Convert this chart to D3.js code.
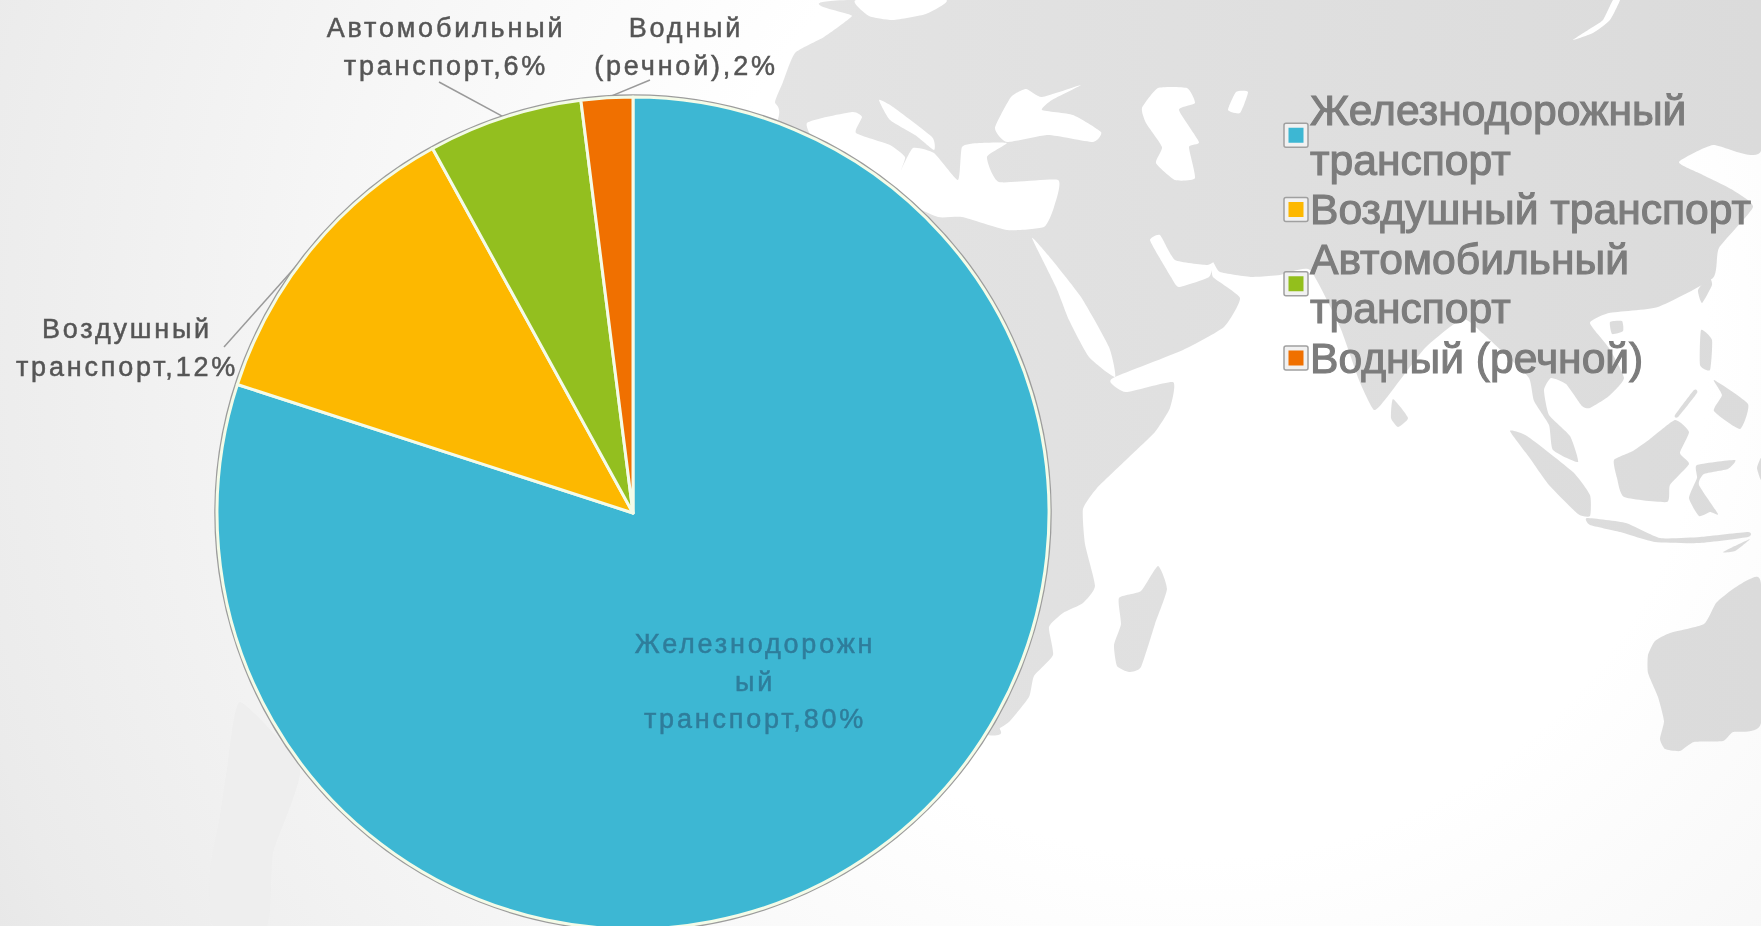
<meta charset="utf-8">
<html>
  <head>
    <style>
      html, body { margin: 0; padding: 0; background: #fff; overflow: hidden; }
      text { font-family: "Liberation Sans", Arial, sans-serif; }
    </style>
  </head>

<script src="https://d3js.org/d3.v7.min.js"></script>

<div id="my_dataviz"></div>

<script>

    // chart data
    var categories = ["Железнодорожный транспорт", "Воздушный транспорт", "Автомобильный транспорт", "Водный (речной)"]
    var values = [80, 12, 6, 2]
    var colors = ["#3db7d3", "#fdb800", "#93bf1f", "#f07000"]

    var labelLines = [
      ["Железнодорожн", "ый", "транспорт,80%"],
      ["Воздушный", "транспорт,12%"],
      ["Автомобильный", "транспорт,6%"],
      ["Водный", "(речной),2%"]
    ]
    var legendLines = [
      ["Железнодорожный", "транспорт"],
      ["Воздушный транспорт"],
      ["Автомобильный", "транспорт"],
      ["Водный (речной)"]
    ]

    // background map, rough outlines of the land and seas in page pixels
    var land = [
      [[852,0],[1761,0],[1761,151],[1713,145],[1679,162],[1701,174],[1731,189],[1753,207],[1719,248],[1713,278],[1658,307],[1609,313],[1590,323],[1609,348],[1624,378],[1609,396],[1590,408],[1582,406],[1566,384],[1551,378],[1544,390],[1549,415],[1570,436],[1578,462],[1553,450],[1549,425],[1534,401],[1529,378],[1505,354],[1480,331],[1462,319],[1425,348],[1388,396],[1374,410],[1359,380],[1340,327],[1310,270],[1280,275],[1252,277],[1220,272],[1213,262],[1213,277],[1240,298],[1224,327],[1183,350],[1115,377],[1111,383],[1126,392],[1173,382],[1170,408],[1155,432],[1126,460],[1097,488],[1083,509],[1085,544],[1095,586],[1083,603],[1063,613],[1049,627],[1053,655],[1034,676],[1029,697],[1010,721],[1000,728],[985,735],[700,700],[700,300],[777,122],[775,102],[783,82],[795,53],[824,37],[852,16]],
      [[1393,399],[1408,418],[1398,427],[1391,418]],
      [[1158,566],[1167,589],[1155,624],[1141,667],[1129,672],[1117,666],[1114,645],[1121,624],[1119,598],[1141,591]],
      [[1510,431],[1527,436],[1573,472],[1590,495],[1590,516],[1578,514],[1549,485],[1529,457]],
      [[1587,518],[1626,523],[1660,538],[1700,537],[1748,532],[1748,537],[1700,543],[1655,542],[1620,532],[1590,525]],
      [[1723,552],[1750,539],[1735,551]],
      [[1614,460],[1633,451],[1650,439],[1675,420],[1689,432],[1680,453],[1689,464],[1670,485],[1667,502],[1624,497],[1617,478]],
      [[1697,465],[1735,460],[1728,469],[1704,474],[1699,485],[1718,514],[1710,512],[1699,516],[1689,498],[1697,478]],
      [[1714,380],[1748,404],[1740,429],[1714,411],[1722,395]],
      [[1701,330],[1712,340],[1710,370],[1700,365]],
      [[1694,390],[1675,415],[1678,417],[1697,393]],
      [[1709,277],[1712,285],[1702,303],[1698,290]],
      [[1610,322],[1622,321],[1623,331],[1612,334]],
      [[1750,579],[1761,584],[1761,723],[1733,732],[1723,741],[1694,742],[1680,751],[1665,749],[1660,739],[1664,721],[1658,697],[1648,673],[1648,655],[1655,641],[1670,633],[1704,624],[1716,603],[1733,589]],
      [[1761,458],[1757,468],[1761,480]]
    ]
    var seas = [
      [[807,123],[852,112],[862,117],[856,133],[890,145],[905,157],[901,170],[913,148],[934,153],[958,180],[962,147],[979,143],[1007,143],[987,157],[999,182],[1058,180],[1054,207],[1044,227],[1007,230],[962,217],[938,217],[900,200],[860,180],[820,150]],
      [[879,100],[893,107],[932,137],[934,150],[915,135],[890,120]],
      [[995,128],[1011,97],[1026,89],[1042,97],[1081,85],[1052,100],[1042,110],[1073,115],[1101,132],[1093,142],[1048,135],[1007,142]],
      [[1142,108],[1158,88],[1187,88],[1195,103],[1179,110],[1199,142],[1189,147],[1195,178],[1175,180],[1156,163],[1162,147],[1146,123]],
      [[1228,110],[1236,92],[1248,92],[1240,113]],
      [[1032,238],[1048,255],[1081,297],[1109,347],[1115,377],[1089,357],[1069,320],[1056,287]],
      [[1150,240],[1160,235],[1175,260],[1207,265],[1213,263],[1209,277],[1179,287],[1171,277],[1162,262]],
      [[856,0],[869,16],[893,20],[926,14],[946,0]],
      [[1573,40],[1593,33],[1610,20],[1620,0],[1613,0],[1603,20],[1588,30]]
    ]
    var paleLand = [[[240,702],[227,769],[220,816],[210,870],[213,926],[267,926],[273,853],[300,769]]]

    // layout
    var width = 1761, height = 926
    var cx = 633, cy = 513, radius = 416

    // label text centres (x, first baseline) and where the leader line leaves the label
    var labelPos = [
      {x: 755, y: 653},
      {x: 127, y: 338},
      {x: 446, y: 37},
      {x: 686, y: 37}
    ]
    var leaderStart = [null, [224, 347], [439, 82], [650, 80]]

    var svg = d3.select("#my_dataviz")
      .append("svg")
        .attr("width", width)
        .attr("height", height)
        .style("display", "block")

    var defs = svg.append("defs")

    // page background
    var bg = defs.append("radialGradient")
      .attr("id", "bg")
      .attr("gradientUnits", "userSpaceOnUse")
      .attr("cx", 1200).attr("cy", 350).attr("r", 1450)
    bg.selectAll("stop")
      .data([[0.35, "#ffffff"], [0.6, "#f6f6f6"], [0.87, "#ebebeb"], [1, "#e3e3e3"]])
      .enter().append("stop")
        .attr("offset", function(d) { return d[0]; })
        .attr("stop-color", function(d) { return d[1]; })

    var landFill = defs.append("linearGradient")
      .attr("id", "landFill")
      .attr("gradientUnits", "userSpaceOnUse")
      .attr("x1", 700).attr("x2", 1761).attr("y1", 0).attr("y2", 0)
    landFill.append("stop").attr("offset", 0).attr("stop-color", "#e4e4e4")
    landFill.append("stop").attr("offset", 1).attr("stop-color", "#dbdbdb")

    defs.append("filter").attr("id", "soft").append("feGaussianBlur").attr("stdDeviation", 0.7)
    defs.append("filter").attr("id", "softer").append("feGaussianBlur").attr("stdDeviation", 0.55)

    svg.append("rect")
      .attr("width", width)
      .attr("height", height)
      .attr("fill", "url(#bg)")

    // map, a light tension takes the corners off the coastlines
    var outline = d3.line().curve(d3.curveCardinalClosed.tension(0.5))
    var map = svg.append("g").attr("filter", "url(#softer)")
    map.selectAll(".pale").data(paleLand).enter().append("path")
      .attr("class", "pale").attr("d", outline).attr("fill", "#eeeeee")
    map.selectAll(".land").data(land).enter().append("path")
      .attr("class", "land").attr("d", outline).attr("fill", "url(#landFill)")
    map.selectAll(".sea").data(seas).enter().append("path")
      .attr("class", "sea").attr("d", outline).attr("fill", "#ffffff")

    // pie
    var pie = d3.pie().sort(null).value(function(d) { return d; })
    var arcs = pie(values)
    var arc = d3.arc().innerRadius(0).outerRadius(radius)
    var edge = d3.arc().innerRadius(radius).outerRadius(radius)

    // leader lines, from the label to the middle of the slice's edge (drawn under the pie)
    arcs.forEach(function(d, i) {
      if (!leaderStart[i]) return
      var p = edge.centroid(d)
      svg.append("line")
        .attr("x1", leaderStart[i][0])
        .attr("y1", leaderStart[i][1])
        .attr("x2", cx + p[0])
        .attr("y2", cy + p[1])
        .attr("stroke", "#9a9a9a")
        .attr("stroke-width", 1.5)
    })

    var g = svg.append("g").attr("transform", "translate(" + cx + "," + cy + ")")

    g.append("circle")
      .attr("r", radius + 1.5)
      .attr("fill", "none")
      .attr("stroke", "#9c9c9c")
      .attr("stroke-width", 2.5)

    g.selectAll(".slice")
      .data(arcs)
      .enter()
      .append("path")
        .attr("class", "slice")
        .attr("d", arc)
        .attr("fill", function(d, i) { return colors[i]; })
        .attr("stroke", "#f4fbe8")
        .attr("stroke-width", 3)
        .attr("stroke-linejoin", "round")

    // data labels
    var labels = svg.append("g")
      .attr("filter", "url(#soft)")
      .attr("text-anchor", "middle")
      .attr("font-size", 27)
      .attr("letter-spacing", 2.8)

    labelLines.forEach(function(lines, i) {
      labels.selectAll(null)
        .data(lines)
        .enter()
        .append("text")
          .attr("x", labelPos[i].x)
          .attr("y", function(d, j) { return labelPos[i].y + j * 37.5; })
          .attr("fill", i == 0 ? "#2f7d9b" : "#555555")
          .attr("stroke", i == 0 ? "#2f7d9b" : "#555555")
          .attr("stroke-width", 0.5)
          .text(function(d) { return d; })
    })

    // legend
    var legendX = 1310, lineGap = 49.5, firstBaseline = 125
    var legend = svg.append("g").attr("filter", "url(#soft)")
    var row = 0
    categories.forEach(function(name, i) {
      var lines = legendLines[i]
      // swatch sits a little above the middle baseline of the entry
      var mid = firstBaseline + (row + (lines.length - 1) / 2) * lineGap - 14.5

      legend.append("rect")
        .attr("x", 1284).attr("y", mid - 12)
        .attr("width", 24).attr("height", 24)
        .attr("rx", 2)
        .attr("fill", "#f1f1f1")
        .attr("stroke", "#a0a0a0")
        .attr("stroke-width", 1.5)
      legend.append("rect")
        .attr("x", 1288.5).attr("y", mid - 7.5)
        .attr("width", 15).attr("height", 15)
        .attr("fill", colors[i])

      lines.forEach(function(line) {
        legend.append("text")
          .attr("x", legendX)
          .attr("y", firstBaseline + row * lineGap)
          .attr("font-size", 42.6)
          .attr("fill", "#7c7c7c")
          .attr("stroke", "#7c7c7c")
          .attr("stroke-width", 1.1)
          .text(line)
        row++
      })
    })

</script>
</html>
